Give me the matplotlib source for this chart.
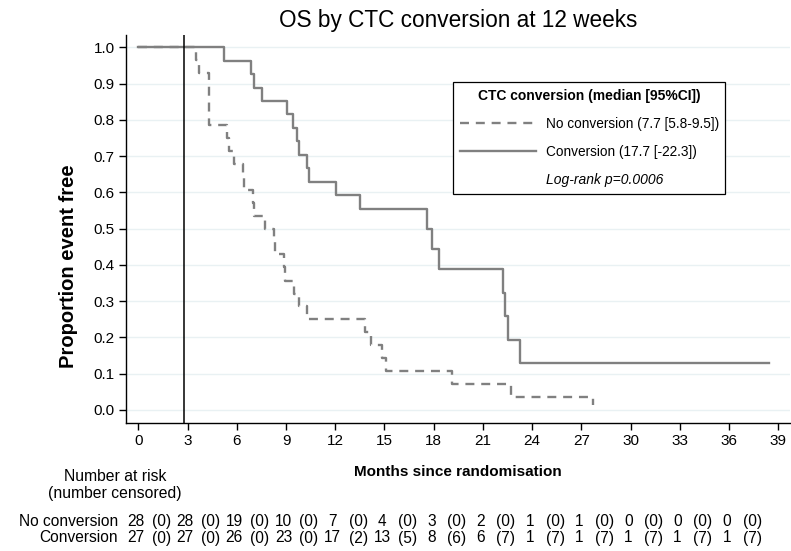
import numpy as np
import matplotlib
matplotlib.use("Agg")
import matplotlib.pyplot as plt
from matplotlib.lines import Line2D
from matplotlib.transforms import blended_transform_factory

plt.rcParams['font.family'] = ['Liberation Sans', 'DejaVu Sans']

# Kaplan-Meier steps (months, proportion event free)
no_conv_t = [0, 3.52, 3.7, 4.3, 5.4, 5.55, 5.8, 6.35, 6.45, 6.98, 7.02, 7.73, 8.24, 8.3,
             8.9, 8.96, 9.5, 9.8, 10.3, 13.83, 14.2, 14.83, 15.08, 19.1, 22.7, 27.7]
no_conv_s = [1.0, 0.964, 0.929, 0.786, 0.75, 0.714, 0.679, 0.643, 0.607, 0.571, 0.536, 0.5, 0.464, 0.429,
             0.393, 0.357, 0.321, 0.286, 0.25, 0.214, 0.179, 0.143, 0.107, 0.071, 0.036, 0.014]

conv_t = [0, 5.19, 6.86, 7.05, 7.52, 9.04, 9.4, 9.65, 9.81, 10.3, 10.42, 12.05, 13.5,
          17.62, 17.92, 18.33, 22.25, 22.35, 22.5, 23.27, 38.4]
conv_s = [1.0, 0.962, 0.926, 0.889, 0.852, 0.815, 0.778, 0.741, 0.704, 0.667, 0.630, 0.593, 0.554,
          0.499, 0.443, 0.388, 0.323, 0.259, 0.194, 0.129, 0.129]

landmark = 12 * 7 / 30.4375   # 12 weeks in months

risk_times = [0, 3, 6, 9, 12, 15, 18, 21, 24, 27, 30, 33, 36]
no_conv_risk = [28, 28, 19, 10, 7, 4, 3, 2, 1, 1, 0, 0, 0]
no_conv_cens = [0, 0, 0, 0, 0, 0, 0, 0, 0, 0, 0, 0, 0]
conv_risk = [27, 27, 26, 23, 17, 13, 8, 6, 1, 1, 1, 1, 1]
conv_cens = [0, 0, 0, 0, 2, 5, 6, 7, 7, 7, 7, 7, 7]

labels = ["No conversion (7.7 [5.8-9.5])", "Conversion (17.7 [-22.3])"]
row_names = ["No conversion", "Conversion"]

W, H = 791, 551
fig = plt.figure(figsize=(W / 100, H / 100), dpi=100)
ax = fig.add_axes([125.7 / W, 1 - 423.3 / H, 664.3 / W, 388.3 / H])

grey = "#808080"
dash = (0, (3.8, 2.9))

ax.step(no_conv_t, no_conv_s, where="post", color=grey, lw=1.7, ls=dash)
ax.step(conv_t, conv_s, where="post", color=grey, lw=1.7)
ax.axvline(landmark, color="black", lw=1.1)

ax.set_xlim(-0.77, 39.71)
ax.set_ylim(-0.0367, 1.034)
ax.set_xticks(np.arange(0, 40, 3))
ax.set_yticks(np.arange(0, 1.01, 0.1))
ax.set_yticklabels(["%.1f" % v for v in np.arange(0, 1.01, 0.1)])
ax.tick_params(labelsize=11, length=5, width=1, direction="out", pad=3)
ax.yaxis.grid(True, color="#e9f1f3", lw=1)
ax.set_axisbelow(True)
for s in ["top", "right"]:
    ax.spines[s].set_visible(False)
for s in ["left", "bottom"]:
    ax.spines[s].set_linewidth(1)

ax.set_xlabel("Months since randomisation", fontsize=11, fontweight="bold", va="center")
ax.xaxis.set_label_coords(0.5, -0.125)
ax.set_ylabel("Proportion event free", fontsize=14.5, fontweight="bold", va="center")
ax.yaxis.set_label_coords(-0.086, 0.405)

fig.text(458 / W, 1 - 20 / H, "OS by CTC conversion at 12 weeks", fontsize=16.3, ha="center", va="center")

handles = [Line2D([], [], color=grey, lw=1.7, ls=dash),
           Line2D([], [], color=grey, lw=1.7),
           Line2D([], [], ls="none")]
leg = ax.legend(handles, labels + ["Log-rank p=0.0006"], loc="upper left",
                bbox_to_anchor=(0.4927, 0.879), borderaxespad=0, fontsize=9.8,
                title="CTC conversion (median [95%CI])",
                title_fontproperties={"weight": "bold", "size": 10},
                handlelength=5.6, handletextpad=0.72, labelspacing=1.05,
                fancybox=False, framealpha=1, edgecolor="black", borderpad=0.48)
leg.get_frame().set_linewidth(0.9)
leg.get_texts()[2].set_style("italic")
leg.get_texts()[2].set_fontsize(10)

# numbers at risk table
fig.text(115 / W, 1 - 476.7 / H, "Number at risk", fontsize=11.3, ha="center", va="center")
fig.text(115 / W, 1 - 493.3 / H, "(number censored)", fontsize=11.3, ha="center", va="center")
tr = blended_transform_factory(ax.transData, fig.transFigure)
rows = [(no_conv_risk, no_conv_cens), (conv_risk, conv_cens)]
row_y = [1 - 521.7 / H, 1 - 538 / H]
for name, (risk, cens), y in zip(row_names, rows, row_y):
    fig.text(118 / W, y, name, fontsize=11.2, ha="right", va="center")
    for t, n, c in zip(risk_times, risk, cens):
        ax.text(t - 0.15, y, str(n), transform=tr, fontsize=11.2, ha="center", va="center", clip_on=False)
        ax.text(t + 1.4, y, "(%d)" % c, transform=tr, fontsize=11.2, ha="center", va="center", clip_on=False)

fig.savefig("out.png", dpi=100)
